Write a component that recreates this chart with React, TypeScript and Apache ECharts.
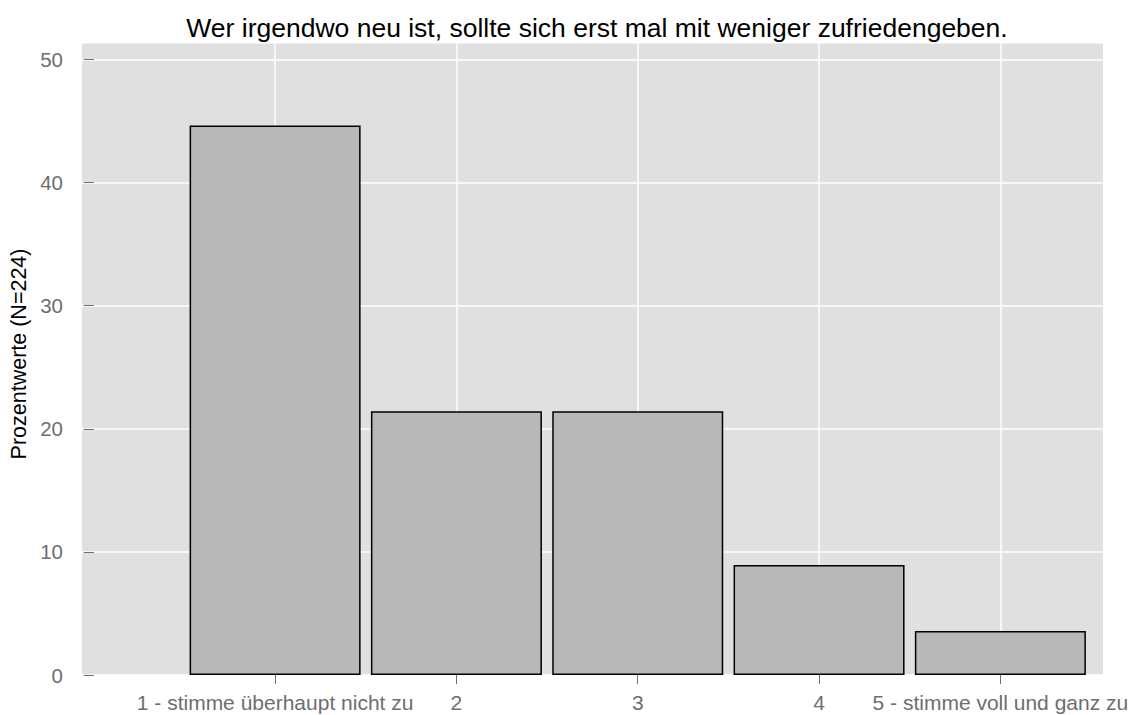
import React, { useEffect, useRef } from "react";
import * as echarts from "echarts";

const categories = [
  "1 - stimme überhaupt nicht zu",
  "2",
  "3",
  "4",
  "5 - stimme voll und ganz zu",
];
const positions = [1, 2, 3, 4, 5];
const percentValues = [44.64, 21.43, 21.43, 8.93, 3.57];
const yTicks = [0, 10, 20, 30, 40, 50];
const titleText = "Wer irgendwo neu ist, sollte sich erst mal mit weniger zufriedengeben.";
const yAxisTitle = "Prozentwerte (N=224)";

export default function App() {
  const ref = useRef<HTMLDivElement>(null);
  useEffect(() => {
    if (!ref.current) return;
    const chart = echarts.init(ref.current, null, { renderer: "svg" });
    const font = "'Liberation Sans', Arial, sans-serif";
    chart.setOption({
      animation: false,
      backgroundColor: "#ffffff",
      textStyle: { fontFamily: font },
      title: {
        text: titleText,
        left: 592,
        textAlign: "center",
        top: 9,
        textStyle: { fontFamily: font, fontSize: 26.5, fontWeight: "normal", color: "#000000" },
      },
      graphic: [
        {
          type: "text",
          x: 19,
          y: 354,
          rotation: Math.PI / 2,
          style: {
            text: yAxisTitle,
            fontFamily: font,
            fontSize: 21.5,
            fill: "#000000",
            textAlign: "center",
            textVerticalAlign: "middle",
          },
        },
      ],
      grid: {
        left: 82,
        right: 34,
        top: 43.5,
        bottom: 40,
        show: true,
        backgroundColor: "#e0e0e0",
        borderWidth: 0,
        containLabel: false,
      },
      xAxis: {
        type: "value",
        min: -0.065,
        max: 5.566,
        axisLine: { show: false },
        axisTick: {
          show: true,
          length: 9,
          lineStyle: { color: "#6e6e6e", width: 1 },
          customValues: positions,
        },
        axisLabel: {
          customValues: positions,
          margin: 17,
          fontSize: 21,
          color: "#6e6e6e",
          fontFamily: font,
          formatter: (v: number) => {
            const i = positions.indexOf(Math.round(v));
            return i >= 0 ? categories[i] : "";
          },
        },
        splitLine: { show: true, lineStyle: { color: "#ffffff", width: 1.5 } },
      },
      yAxis: {
        type: "value",
        min: 0,
        max: 51.3,
        interval: 10,
        axisLine: { show: false },
        axisTick: {
          show: true,
          length: 10,
          lineStyle: { color: "#6e6e6e", width: 1 },
          customValues: yTicks,
        },
        axisLabel: {
          customValues: yTicks,
          margin: 19,
          fontSize: 20.5,
          color: "#6e6e6e",
          fontFamily: font,
        },
        splitLine: { show: true, lineStyle: { color: "#ffffff", width: 1.5 } },
      },
      series: [
        {
          type: "bar",
          data: positions.map((p, i) => [p, percentValues[i]]),
          barWidth: 171,
          itemStyle: { color: "#b8b8b8", borderColor: "#000000", borderWidth: 1.5 },
        },
      ],
    });
    return () => chart.dispose();
  }, []);
  return (
    <div
      ref={ref}
      style={{ position: "fixed", left: 0, top: 0, width: 1137, height: 715 }}
    />
  );
}
